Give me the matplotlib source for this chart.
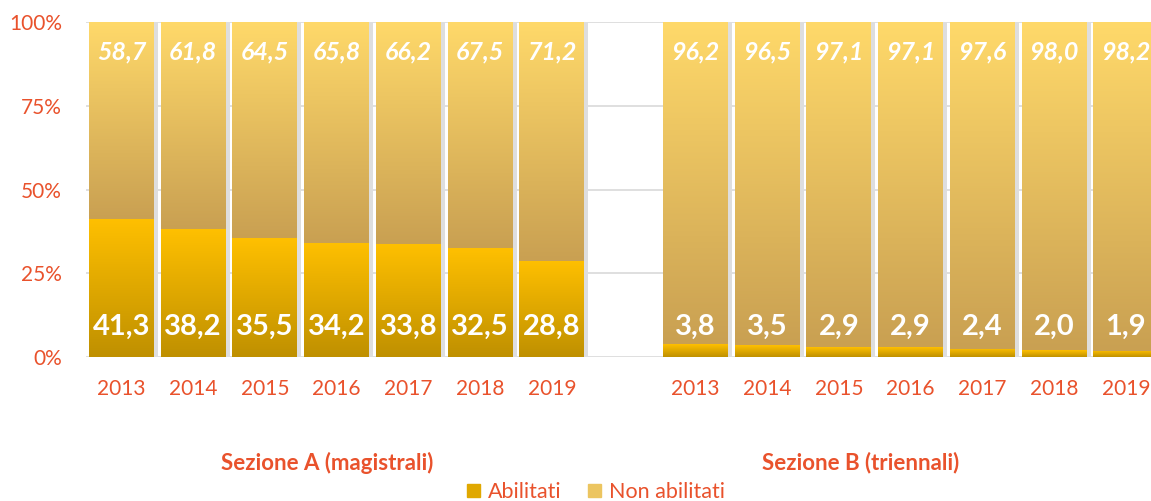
import matplotlib
matplotlib.use("Agg")
import matplotlib.pyplot as plt
import numpy as np
from matplotlib.colors import LinearSegmentedColormap
from matplotlib.patches import Patch

plt.rcParams['font.family'] = ['Lato', 'DejaVu Sans']

years = ['2013', '2014', '2015', '2016', '2017', '2018', '2019']
abil_a = [41.3, 38.2, 35.5, 34.2, 33.8, 32.5, 28.8]
non_a = [58.7, 61.8, 64.5, 65.8, 66.2, 67.5, 71.2]
abil_b = [3.8, 3.5, 2.9, 2.9, 2.4, 2.0, 1.9]
non_b = [96.2, 96.5, 97.1, 97.1, 97.6, 98.0, 98.2]
groups = ['Sezione A (magistrali)', 'Sezione B (triennali)']

red = '#E9522C'
cmap_abil = LinearSegmentedColormap.from_list('abil', ['#BF9000', '#FFC000'])
cmap_non = LinearSegmentedColormap.from_list('non', ['#C9A052', '#FFD96A'])

fig = plt.figure(figsize=(11.51, 5.01), dpi=100)
ax = fig.add_axes([0.0744, 0.2874, 0.9256, 0.6677])

# positions: group A slots 0..6, empty slot 7, group B slots 8..14
x_a = np.arange(len(years))
x_b = np.arange(len(years)) + len(years) + 1
xs = np.concatenate([x_a, x_b])
abil = abil_a + abil_b
non = non_a + non_b
w = 0.906

grad = np.linspace(0, 1, 256).reshape(-1, 1)


def grad_bar(x, y0, h, cmap):
    ax.imshow(grad, cmap=cmap, origin='lower', aspect='auto',
              extent=(x - w / 2, x + w / 2, y0, y0 + h), zorder=3,
              interpolation='bicubic')


for y in [0, 25, 50, 75, 100]:
    ax.axhline(y, color='#D9D9D9', lw=1.2, zorder=1)

for x, a, n in zip(xs, abil, non):
    # soft shadow
    ax.bar(x + 0.03, 100.6, width=w + 0.05, bottom=-0.6, color='#DEDEDE', zorder=2)
    grad_bar(x, 0, a, cmap_abil)
    grad_bar(x, a, n, cmap_non)
    ax.text(x, 9, f'{a:.1f}'.replace('.', ','), ha='center', va='center',
            color='white', fontsize=21, fontweight='bold', zorder=5)
    ax.text(x, 91.2, f'{n:.1f}'.replace('.', ','), ha='center', va='center',
            color='white', fontsize=18, fontweight='bold', style='italic', zorder=5)

ax.set_xlim(-0.5, 14.35)
ax.set_ylim(0, 100)
ax.set_yticks([0, 25, 50, 75, 100])
ax.set_yticklabels(['0%', '25%', '50%', '75%', '100%'])
ax.set_xticks(xs)
ax.set_xticklabels(years + years)
ax.tick_params(length=0, labelsize=15, labelcolor=red)
ax.tick_params(axis='y', pad=17)
ax.tick_params(axis='x', pad=16)
for s in ax.spines.values():
    s.set_visible(False)

fig.text(327 / 1151, 1 - 463 / 501, groups[0], ha='center', va='center',
         color=red, fontsize=16, fontweight='bold')
fig.text(861 / 1151, 1 - 463 / 501, groups[1], ha='center', va='center',
         color=red, fontsize=16, fontweight='bold')

handles = [Patch(color='#E0A800', label='Abilitati'),
           Patch(color='#ECC560', label='Non abilitati')]
leg = fig.legend(handles=handles, loc='center', bbox_to_anchor=(596 / 1151, 1 - 492 / 501),
                 ncol=2, frameon=False, fontsize=15.5, handlelength=0.6, handleheight=0.6,
                 handletextpad=0.4, columnspacing=1.2)
for t in leg.get_texts():
    t.set_color(red)

fig.savefig('out.png', dpi=100)
